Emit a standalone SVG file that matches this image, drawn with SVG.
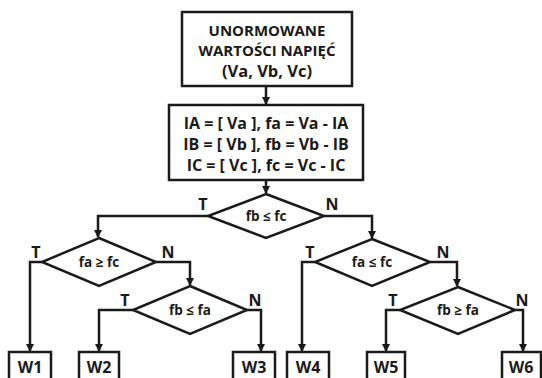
<svg xmlns="http://www.w3.org/2000/svg" width="542" height="378" viewBox="0 0 542 378">
<defs>
<marker id="arr" markerWidth="8" markerHeight="8" refX="7" refY="4" orient="auto" markerUnits="userSpaceOnUse">
<path d="M0,0 L8,4 L0,8 Z" fill="#1a1a1a"/>
</marker>
<style>
.box{fill:#fff;stroke:#1a1a1a;stroke-width:2.5}
.ln{fill:none;stroke:#1a1a1a;stroke-width:2.5;marker-end:url(#arr)}
.t{font-family:"Open Sans","Liberation Sans",sans-serif;font-weight:bold;fill:#1a1a1a;text-anchor:middle}
.big{font-size:15px}
.par{font-size:16.5px}
.mid{font-size:16px}
.dl{font-size:13.5px}
.tn{font-size:16px}
.w{font-size:16px}
</style>
</defs>
<rect width="542" height="378" fill="#fff"/>
<g id="connectors">
<path class="ln" d="M266,86 V104"/>
<path class="ln" d="M266,180 V193"/>
<path class="ln" d="M208,216 H98 V237"/>
<path class="ln" d="M324,216 H372 V238"/>
<path class="ln" d="M42,262 H30 V351"/>
<path class="ln" d="M156,262 H190 V285"/>
<path class="ln" d="M133,310 H99 V351"/>
<path class="ln" d="M247,310 H261 V351"/>
<path class="ln" d="M315,262 H302 V351"/>
<path class="ln" d="M430,262 H457 V286"/>
<path class="ln" d="M400,310 H386 V351"/>
<path class="ln" d="M515,310 H523 V351"/>
</g>
<g id="start">
<rect class="box" x="182" y="12" width="170" height="74"/>
<text class="t big" x="267" y="36">UNORMOWANE</text>
<text class="t big" x="267" y="56">WARTOŚCI NAPIĘĆ</text>
<text class="t par" x="267" y="77">(Va, Vb, Vc)</text>
</g>
<g id="calc">
<rect class="box" x="169" y="105" width="194" height="75"/>
<text class="t mid" x="266" y="129">IA = [ Va ], fa = Va - IA</text>
<text class="t mid" x="266" y="150">IB = [ Vb ], fb = Vb - IB</text>
<text class="t mid" x="266" y="171">IC = [ Vc ], fc = Vc - IC</text>
</g>
<g id="d1">
<polygon class="box" points="266,194 324,216 266,238 208,216"/>
<text class="t dl" x="266" y="221">fb ≤ fc</text>
<text class="t tn" x="203" y="210">T</text>
<text class="t tn" x="332" y="210">N</text>
</g>
<g id="d2">
<polygon class="box" points="99,238 156,262 99,286 42,262"/>
<text class="t dl" x="99" y="267">fa ≥ fc</text>
<text class="t tn" x="36" y="258">T</text>
<text class="t tn" x="168" y="258">N</text>
</g>
<g id="d3">
<polygon class="box" points="190,286 247,310 190,334 133,310"/>
<text class="t dl" x="190" y="315">fb ≤ fa</text>
<text class="t tn" x="125" y="306">T</text>
<text class="t tn" x="255" y="306">N</text>
</g>
<g id="d4">
<polygon class="box" points="372,239 430,262 372,286 315,262"/>
<text class="t dl" x="372" y="267">fa ≤ fc</text>
<text class="t tn" x="310" y="258">T</text>
<text class="t tn" x="443" y="258">N</text>
</g>
<g id="d5">
<polygon class="box" points="458,287 515,310 458,334 400,310"/>
<text class="t dl" x="458" y="315">fb ≥ fa</text>
<text class="t tn" x="393" y="306">T</text>
<text class="t tn" x="522" y="306">N</text>
</g>
<g id="w1"><rect class="box" x="9" y="352" width="42" height="32"/><text class="t w" x="30" y="373">W1</text></g>
<g id="w2"><rect class="box" x="79" y="352" width="40" height="32"/><text class="t w" x="99" y="373">W2</text></g>
<g id="w3"><rect class="box" x="233" y="352" width="42" height="32"/><text class="t w" x="254" y="373">W3</text></g>
<g id="w4"><rect class="box" x="287" y="352" width="42" height="32"/><text class="t w" x="308" y="373">W4</text></g>
<g id="w5"><rect class="box" x="367" y="352" width="38" height="32"/><text class="t w" x="386" y="373">W5</text></g>
<g id="w6"><rect class="box" x="502" y="352" width="39" height="32"/><text class="t w" x="521" y="373">W6</text></g>
</svg>
